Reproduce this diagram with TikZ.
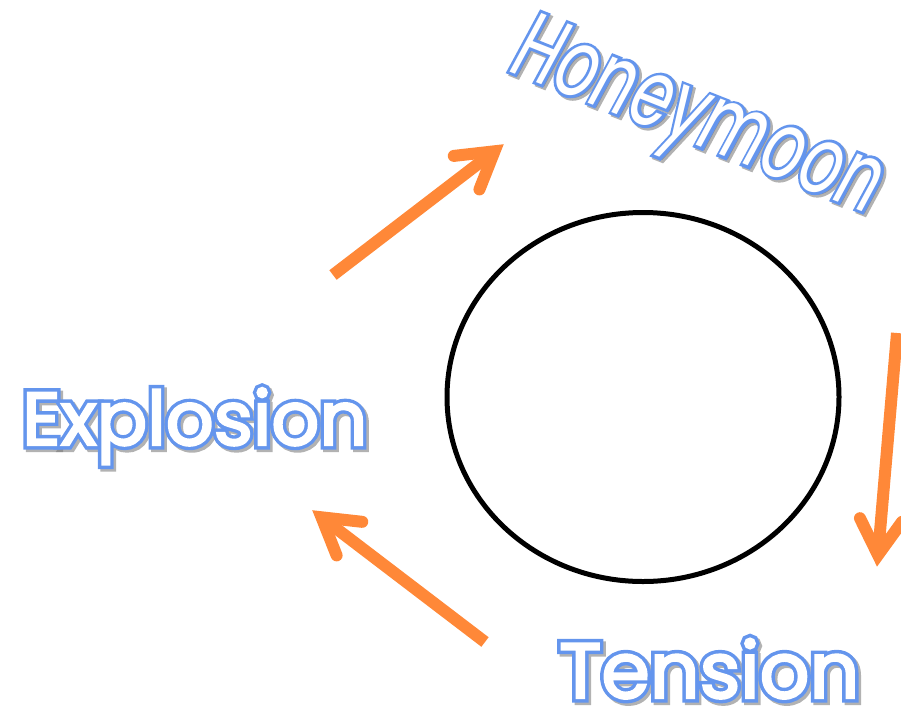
\documentclass[tikz,border=0pt]{standalone}
\usepackage{fontspec}
\usetikzlibrary{calc,shapes.geometric}
\newfontfamily\popOut[FakeBold=12]{Poppins}
\newfontfamily\popIn[FakeBold=3]{Poppins}
\newfontfamily\popItOut[FakeBold=6,FakeStretch=0.67]{Poppins Italic}
\newfontfamily\popItIn[FakeStretch=0.67]{Poppins Italic}
\definecolor{wblue}{RGB}{100,149,237}
\definecolor{arrorange}{RGB}{255,136,56}
\tikzset{
  lbl/.style={inner sep=0pt, anchor=base west},
  shadowlbl/.style={lbl, text=black!55, opacity=0.55},
  bluelbl/.style={lbl, text=wblue},
  whitelbl/.style={lbl, text=white},
  shaft/.style={draw=arrorange, line width=12pt, line cap=butt},
  barbs/.style={draw=arrorange, line width=12pt, line cap=round, line join=miter, miter limit=10},
}
\begin{document}
\begin{tikzpicture}[x=1pt,y=-1pt]
\useasboundingbox (0,0) rectangle (901,710);
% cycle circle
\node[ellipse, draw=black, line width=5pt, minimum width=392pt, minimum height=369pt, inner sep=0pt] (cyc) at (643,397) {};
% arrows
\coordinate (a1t) at (333,275); \coordinate (a1h) at (494.5,151.3);
\coordinate (a2t) at (897,333); \coordinate (a2h) at (878,555);
\coordinate (a3t) at (485,642); \coordinate (a3h) at (321.5,517.3);
\foreach \t/\h in {a1t/a1h,a2t/a2h,a3t/a3h}{
  \draw[shaft] (\t) -- (\h);
  \draw[barbs] ($(\h)!41pt!31:(\t)$) -- (\h) -- ($(\h)!41pt!-31:(\t)$);
}
% Explosion
\node[shadowlbl, font=\popOut\fontsize{75}{82}\selectfont] (expl-sh) at (24.5,447.5) {Explosion};
\node[bluelbl, font=\popOut\fontsize{75}{82}\selectfont] (expl-bl) at (22,445) {Explosion};
\node[whitelbl, font=\popIn\fontsize{75}{82}\selectfont] (expl) at (22,445) {Explosion};
% Tension
\node[shadowlbl, font=\popOut\fontsize{78}{86}\selectfont] (tens-sh) at (561.5,700.5) {Tension};
\node[bluelbl, font=\popOut\fontsize{78}{86}\selectfont] (tens-bl) at (559,698) {Tension};
\node[whitelbl, font=\popIn\fontsize{78}{86}\selectfont] (tens) at (559,698) {Tension};
% Honeymoon
\node[shadowlbl, rotate=-21.6, font=\popItOut\fontsize{95}{100}\selectfont] (honey-sh) at (510.5,73.5) {Honeymoon};
\node[bluelbl, rotate=-21.6, font=\popItOut\fontsize{95}{100}\selectfont] (honey-bl) at (508,71) {Honeymoon};
\node[whitelbl, rotate=-21.6, font=\popItIn\fontsize{95}{100}\selectfont] (honey) at (508,71) {Honeymoon};
\end{tikzpicture}
\end{document}
